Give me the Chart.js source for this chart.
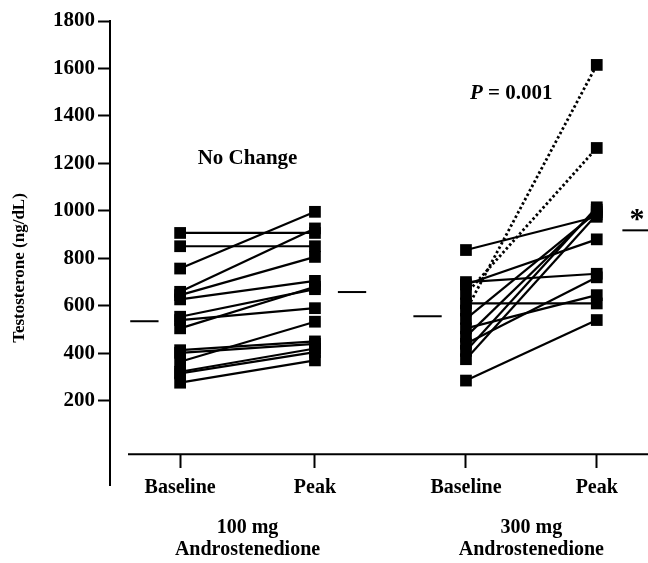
<!DOCTYPE html>
<html>
<head>
<meta charset="utf-8">
<script src="https://cdn.jsdelivr.net/npm/chart.js@4.4.1/dist/chart.umd.min.js"></script>
<style>
  html, body { margin: 0; padding: 0; background: #ffffff; }
  #wrap { width: 648px; height: 563px; }
</style>
</head>
<body>
<div id="wrap"><canvas id="testoChart"></canvas></div>
<script>
// Data (ng/dL), one entry per subject
const tickLabels = ['Baseline', 'Peak', 'Baseline', 'Peak'];
const groupLabels = [['100 mg', 'Androstenedione'], ['300 mg', 'Androstenedione']];
const yTicks = [200, 400, 600, 800, 1000, 1200, 1400, 1600, 1800];

const baseline100 = [907, 851, 757, 659, 645, 627, 554, 540, 505, 413, 402, 364, 322, 315, 276];
const peak100 = [907, 851, 996, 926, 806, 705, 670, 590, 680, 450, 440, 533, 420, 405, 370];

const baseline300 = [835, 700, 690, 650, 610, 580, 545, 505, 470, 440, 410, 375, 285];
const peak300 = [975, 735, 880, 1265, 610, 1615, 995, 645, 1005, 720, 1015, 985, 540];
// subjects drawn with a dotted line in the 300 mg group
const dotted300 = [3, 5];

// group means (short horizontal bars)
const means = [535, 658, 556, 918];

// layout of the category positions on the linear x scale
const xPos = [1, 2, 3.12, 4.09];
const FONT = "'Liberation Serif', 'Times New Roman', serif";

function pairs(base, peak, xi) {
  return base.map((b, i) => ({
    type: 'scatter',
    data: [{ x: xPos[xi], y: b }, { x: xPos[xi + 1], y: peak[i] }],
    showLine: true,
    borderColor: '#000',
    borderWidth: 2.2,
    pointStyle: 'rect',
    pointRadius: 8.3,
    pointBackgroundColor: '#000',
    pointBorderWidth: 0
  }));
}

const datasets = [].concat(pairs(baseline100, peak100, 0), pairs(baseline300, peak300, 2));
dotted300.forEach(i => {
  const ds = datasets[baseline100.length + i];
  ds.borderDash = [2.5, 2.5];
  ds.borderWidth = 2.8;
});

// mean bars sit beside the baseline (left) and peak (right) columns
const meanSpans = [[-0.37, -0.16], [0.17, 0.38], [-0.39, -0.18], [0.19, 0.40]];
means.forEach((m, i) => {
  datasets.push({
    type: 'line',
    data: [{ x: xPos[i] + meanSpans[i][0], y: m }, { x: xPos[i] + meanSpans[i][1], y: m }],
    borderColor: '#000',
    borderWidth: 2,
    pointRadius: 0
  });
});

// stretch the x scale to the right edge of the canvas, like the open axis in the figure
const fullWidthX = {
  id: 'fullWidthX',
  afterLayout(chart) {
    const x = chart.scales.x;
    x.right = chart.width;
    x.width = x.right - x.left;
    x.configure();
  }
};

const annotations = {
  id: 'annotations',
  afterDraw(chart) {
    const ctx = chart.ctx;
    const x = chart.scales.x, y = chart.scales.y;
    ctx.save();
    ctx.fillStyle = '#000';
    ctx.strokeStyle = '#000';

    // x axis line, offset from the y axis
    const ax = y.getPixelForValue(-25);
    ctx.lineWidth = 2;
    ctx.beginPath();
    ctx.moveTo(chart.chartArea.left + 18, ax);
    ctx.lineTo(chart.width, ax);
    ctx.stroke();

    // y axis title
    ctx.font = 'bold 17px ' + FONT;
    ctx.textAlign = 'center';
    ctx.textBaseline = 'middle';
    ctx.save();
    ctx.translate(20, 268);
    ctx.rotate(-Math.PI / 2);
    ctx.fillText('Testosterone (ng/dL)', 0, 0);
    ctx.restore();

    // group labels under the axis
    ctx.font = 'bold 20px ' + FONT;
    groupLabels.forEach((lines, g) => {
      const cx = (x.getPixelForValue(xPos[g * 2]) + x.getPixelForValue(xPos[g * 2 + 1])) / 2;
      ctx.fillText(lines[0], cx, 528);
      ctx.fillText(lines[1], cx, 550);
    });

    // "No Change" over the 100 mg group
    ctx.font = 'bold 21px ' + FONT;
    const c1 = (x.getPixelForValue(xPos[0]) + x.getPixelForValue(xPos[1])) / 2;
    ctx.fillText('No Change', c1, y.getPixelForValue(1220));

    // P value over the 300 mg group
    ctx.textAlign = 'left';
    const py = y.getPixelForValue(1495);
    ctx.font = 'italic bold 21px ' + FONT;
    const px = 470;
    ctx.fillText('P', px, py);
    const pw = ctx.measureText('P ').width;
    ctx.font = 'bold 21px ' + FONT;
    ctx.fillText('= 0.001', px + pw, py);

    // significance asterisk
    ctx.textAlign = 'center';
    ctx.font = 'bold 30px ' + FONT;
    ctx.fillText('*', 637, y.getPixelForValue(960));
    ctx.restore();
  }
};

new Chart(document.getElementById('testoChart'), {
  type: 'scatter',
  data: { datasets },
  plugins: [fullWidthX, annotations],
  options: {
    responsive: true,
    maintainAspectRatio: false,
    animation: false,
    layout: { padding: { top: 21, right: 0, bottom: 78, left: 0 } },
    plugins: {
      legend: { display: false },
      tooltip: { enabled: false }
    },
    scales: {
      x: {
        type: 'linear',
        position: { y: -25 },
        min: 0.48,
        max: 4.47,
        afterBuildTicks(scale) {
          scale.ticks = xPos.map(v => ({ value: v }));
        },
        ticks: {
          color: '#000',
          font: { family: FONT, size: 20, weight: 'bold' },
          padding: 8,
          maxRotation: 0,
          callback: (v, i) => tickLabels[i]
        },
        grid: { drawOnChartArea: false, tickLength: 14, tickWidth: 2, tickColor: '#000' },
        border: { display: false }
      },
      y: {
        min: -155,
        max: 1800,
        afterBuildTicks(scale) {
          scale.ticks = yTicks.map(v => ({ value: v }));
        },
        afterFit(scale) {
          scale.width = 110;
          scale.paddingTop = 0;
          scale.paddingBottom = 0;
        },
        ticks: {
          color: '#000',
          font: { family: FONT, size: 21, weight: 'bold' },
          padding: 3,
          callback: v => String(v)
        },
        grid: { drawOnChartArea: false, tickLength: 12, tickWidth: 2, tickColor: '#000' },
        border: { display: true, color: '#000', width: 2 }
      }
    }
  }
});
</script>
</body>
</html>
